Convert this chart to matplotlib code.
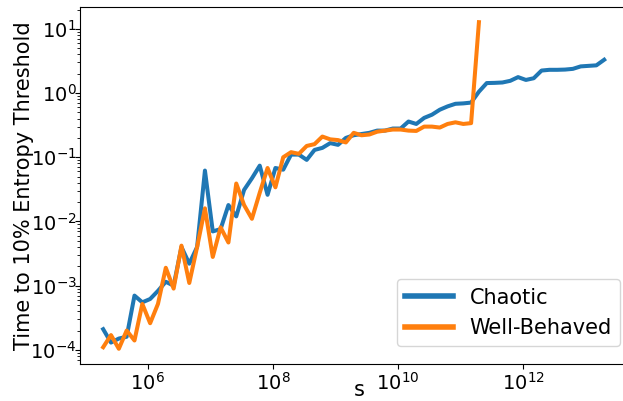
import numpy as np
import matplotlib
matplotlib.use('agg')
import matplotlib.pyplot as plt
from matplotlib.ticker import NullLocator

# s values: 8 steps per decade
log_s_start = 5.29
log_s_step = 0.125

chaotic = [2.1e-4, 1.3e-4, 1.5e-4, 1.6e-4, 7.0e-4, 5.5e-4, 6.2e-4, 8.3e-4,
           1.15e-3, 1.0e-3, 4.0e-3, 2.2e-3, 4.0e-3, 0.062, 7.0e-3, 7.6e-3,
           0.018, 0.012, 0.031, 0.047, 0.074, 0.026, 0.068, 0.064,
           0.11, 0.11, 0.091, 0.13, 0.14, 0.166, 0.156, 0.20,
           0.22, 0.23, 0.24, 0.26, 0.26, 0.28, 0.28, 0.36,
           0.33, 0.41, 0.46, 0.55, 0.62, 0.68, 0.69, 0.71,
           1.05, 1.43, 1.44, 1.46, 1.55, 1.77, 1.6, 1.7,
           2.24, 2.3, 2.3, 2.32, 2.38, 2.6, 2.65, 2.7, 3.3]

well_behaved = [1.1e-4, 1.7e-4, 1.04e-4, 2.0e-4, 1.4e-4, 5.2e-4, 2.6e-4, 5.2e-4,
                1.9e-3, 9.0e-4, 4.2e-3, 1.1e-3, 4.0e-3, 0.016, 2.8e-3, 8.1e-3,
                4.7e-3, 0.039, 0.018, 0.011, 0.028, 0.068, 0.034, 0.10,
                0.12, 0.113, 0.15, 0.16, 0.21, 0.19, 0.185, 0.17,
                0.24, 0.22, 0.226, 0.25, 0.26, 0.27, 0.27, 0.26,
                0.257, 0.30, 0.30, 0.29, 0.33, 0.35, 0.33, 0.34, 12.7]

x_ticks = [1e6, 1e8, 1e10, 1e12]

s_chaotic = 10 ** (log_s_start + log_s_step * np.arange(len(chaotic)))
s_well = 10 ** (log_s_start + log_s_step * np.arange(len(well_behaved)))

plt.rcParams['font.size'] = 14

W, H = 623, 401
fig = plt.figure(figsize=(W / 100, H / 100), dpi=100)
# right spine sits just outside the saved picture, as in the reference
left, right, top, bottom = 80, 638, 7, 364
ax = fig.add_axes([left / W, 1 - bottom / H, (right - left) / W, (bottom - top) / H])

ax.plot(s_chaotic, chaotic, color='#1f77b4', linewidth=2.9, label='Chaotic')
ax.plot(s_well, well_behaved, color='#ff7f0e', linewidth=2.9, label='Well-Behaved')
ax.set_xscale('log')
ax.set_yscale('log')
ax.set_xlim(10 ** 4.92, 10 ** 13.83)
ax.set_ylim(10 ** -4.22, 10 ** 1.34)
ax.set_xticks(x_ticks)
ax.xaxis.set_minor_locator(NullLocator())
ax.tick_params(axis='x', pad=2)
ax.tick_params(axis='y', pad=-1)
ax.set_xlabel('s', fontsize=15, labelpad=-10)
ax.set_ylabel('Time to 10% Entropy Threshold', fontsize=15, labelpad=-3)
leg = ax.legend(loc='lower right', fontsize=15, borderaxespad=0.85, handlelength=2.3)
for line in leg.get_lines():
    line.set_linewidth(4)

plt.savefig('out.png', dpi=100)
